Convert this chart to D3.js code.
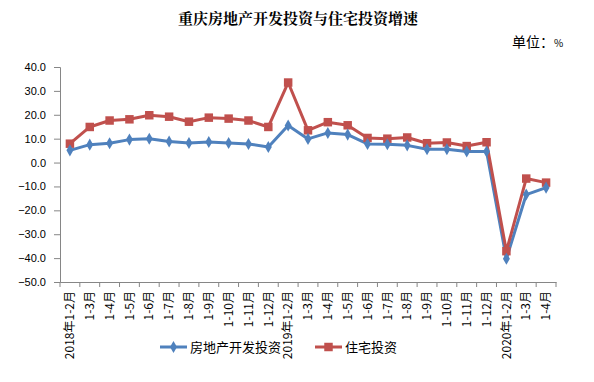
<!DOCTYPE html>
<html><head><meta charset="utf-8">
<script src="https://cdn.jsdelivr.net/npm/d3@7"></script>
<style>body{margin:0;background:#fff;}svg{display:block;}</style>
</head><body><svg id="c" width="594" height="382"></svg>
<script>
const categories = ["2018年1-2月","1-3月","1-4月","1-5月","1-6月","1-7月","1-8月","1-9月","1-10月","1-11月","1-12月",
"2019年1-2月","1-3月","1-4月","1-5月","1-6月","1-7月","1-8月","1-9月","1-10月","1-11月","1-12月",
"2020年1-2月","1-3月","1-4月"];
const devInvest = [5.1,7.5,8.1,9.6,10.0,8.8,8.2,8.6,8.2,7.8,6.5,15.5,9.9,12.4,11.7,7.8,7.7,7.2,5.6,5.6,4.6,4.6,-40.3,-13.4,-10.5];
const houseInvest = [7.9,14.9,17.6,18.1,19.8,19.2,17.1,18.8,18.4,17.6,14.9,33.5,13.5,16.9,15.6,10.3,10.0,10.5,8.1,8.4,6.9,8.5,-37.1,-6.7,-8.4];
const yTicks = [40,30,20,10,0,-10,-20,-30,-40,-50];
const seriesNames = ["房地产开发投资","住宅投资"];
const colors = ["#4F81BD","#C0504D"];

const svg = d3.select("#c");
const mLeft = 60, mRight = 556, mTop = 67, mBottom = 282;
const x = d3.scaleBand().domain(categories.map((d,i)=>i)).range([mLeft,mRight]);
const y = d3.scaleLinear().domain([-50,40]).range([mBottom,mTop]);
const font = "'Noto Sans CJK SC', sans-serif";

svg.append("text").attr("x",298).attr("y",24).attr("text-anchor","middle")
  .style("font-family","'Noto Serif CJK SC','Noto Sans CJK SC',serif").style("font-weight","bold").style("font-size","15px").text("重庆房地产开发投资与住宅投资增速");
const unit = svg.append("text").attr("x",512).attr("y",47).style("font-family",font).style("font-size","14px");
unit.append("tspan").text("单位：");
unit.append("tspan").style("font-size","10px").text("%");

const ya = svg.append("g").attr("transform",`translate(${mLeft},0)`)
  .call(d3.axisLeft(y).tickValues(yTicks).tickFormat(d3.format(".1f")).tickSizeOuter(0).tickSize(6).tickPadding(8));
ya.select(".domain").attr("stroke","#868686");
ya.selectAll(".tick line").attr("stroke","#868686");
ya.selectAll("text").style("font-family","'Liberation Sans',Arial,sans-serif").style("font-size","11px").attr("fill","#000");

const xa = svg.append("g").attr("transform",`translate(0,${mBottom})`)
  .call(d3.axisBottom(x).tickSize(0).tickFormat(i=>categories[i]));
xa.select(".domain").attr("stroke","#868686");
xa.selectAll("text").attr("transform","rotate(-90)").attr("text-anchor","end").attr("dx","-9px").attr("dy","0.35em").attr("y",0)
  .style("font-family",font).style("font-size","12px").attr("fill","#000");
const bounds = d3.range(categories.length+1).map(i=>mLeft + i*x.step());
svg.append("g").selectAll("line").data(bounds).join("line")
  .attr("x1",d=>d).attr("x2",d=>d).attr("y1",mBottom).attr("y2",mBottom+5).attr("stroke","#868686");

const cx = i => x(i) + x.bandwidth()/2;
const line = d3.line().x((d,i)=>cx(i)).y(d=>y(d));
[devInvest, houseInvest].forEach((s,k)=>{
  svg.append("path").datum(s).attr("d",line).attr("fill","none").attr("stroke",colors[k]).attr("stroke-width",3).attr("stroke-linejoin","round");
});
svg.append("g").selectAll("path").data(houseInvest).join("path")
  .attr("d",d3.symbol(d3.symbolSquare,72)).attr("transform",(d,i)=>`translate(${cx(i)},${y(d)})`).attr("fill",colors[1]);
svg.append("g").selectAll("path").data(devInvest).join("path")
  .attr("d",d3.symbol(d3.symbolDiamond,42)).attr("transform",(d,i)=>`translate(${cx(i)},${y(d)})`).attr("fill",colors[0]);

const leg = [{x:160,sym:d3.symbolDiamond,size:42},{x:315,sym:d3.symbolSquare,size:72}];
leg.forEach((l,k)=>{
  const g = svg.append("g");
  g.append("line").attr("x1",l.x).attr("x2",l.x+27).attr("y1",347).attr("y2",347).attr("stroke",colors[k]).attr("stroke-width",3);
  g.append("path").attr("d",d3.symbol(l.sym,l.size)).attr("transform",`translate(${l.x+13.5},347)`).attr("fill",colors[k]);
  g.append("text").attr("x",l.x+30).attr("y",352).style("font-family",font).style("font-size","13px").text(seriesNames[k]);
});
</script></body></html>
